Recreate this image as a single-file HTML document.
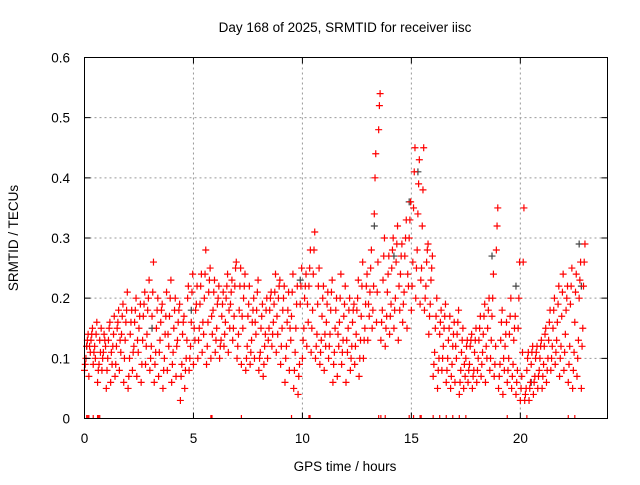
<!DOCTYPE html>
<html><head><meta charset="utf-8"><style>
body{margin:0;background:#fff;}
svg text{font-family:"Liberation Sans",sans-serif;font-size:13.5px;fill:#000;}
</style></head><body>
<svg id="chart" width="640" height="480" viewBox="0 0 640 480" xmlns="http://www.w3.org/2000/svg">
<rect width="640" height="480" fill="#fff"/>
<text x="345" y="32" text-anchor="middle">Day 168 of 2025, SRMTID for receiver iisc</text>
<text transform="translate(18,238) rotate(-90)" text-anchor="middle">SRMTID / TECUs</text>
<text x="345" y="471" text-anchor="middle">GPS time / hours</text>
<g id="grid"></g>
<g id="marks"></g>
<rect x="84.5" y="57.5" width="523" height="361" fill="none" stroke="#000" stroke-width="1"/>
<g id="ticks"></g>
</svg>
<script>
const xTicks=[0,5,10,15,20];
const yTicks=[0,0.1,0.2,0.3,0.4,0.5,0.6];
const yTickLabels=["0","0.1","0.2","0.3","0.4","0.5","0.6"];
const binStart=0, binStep=0.2;
const redLo=[.08,.07,.09,.06,.08,.05,.06,.07,.08,.06,.05,.08,.07,.06,.09,.08,.06,.07,.05,.08,.06,.07,.03,.05,.08,.09,.10,.11,.09,.10,.11,.10,.12,.11,.13,.10,.09,.08,.09,.10,.08,.07,.10,.12,.11,.09,.06,.08,.05,.04,.10,.12,.11,.10,.09,.08,.10,.06,.07,.09,.06,.08,.09,.07,.10,.13,.15,.16,.13,.12,.14,.15,.13,.16,.15,.18,.20,.19,.18,.14,.07,.05,.08,.06,.05,.06,.04,.05,.06,.05,.06,.07,.06,.08,.07,.05,.04,.06,.05,.04,.03,.03,.03,.04,.05,.05,.06,.08,.09,.07,.08,.06,.05,.07,.05];
const redC=[.09,.12,.11,.08,.10,.08,.11,.09,.13,.10,.07,.11,.13,.09,.12,.10,.09,.11,.08,.14,.09,.12,.07,.08,.10,.15,.13,.16,.12,.17,.13,.12,.14,.18,.15,.12,.17,.10,.11,.16,.10,.09,.13,.14,.17,.12,.10,.15,.08,.07,.13,.19,.15,.12,.11,.14,.12,.09,.14,.11,.13,.10,.12,.10,.13,.19,.18,.21,.16,.15,.17,.18,.22,.19,.24,.22,.25,.23,.20,.17,.09,.08,.10,.08,.07,.12,.06,.09,.08,.07,.08,.09,.12,.10,.09,.07,.10,.08,.07,.06,.05,.04,.05,.06,.07,.07,.08,.10,.11,.10,.11,.09,.08,.10,.12];
const redA=[.10,.11,.12,.09,.11,.10,.09,.12,.11,.13,.10,.12,.11,.13,.14,.12,.11,.13,.10,.12,.11,.13,.09,.10,.12,.13,.15,.14,.16,.14,.15,.13,.16,.15,.17,.14,.15,.12,.13,.14,.11,.12,.15,.16,.14,.15,.12,.13,.11,.09,.15,.16,.18,.14,.13,.12,.14,.11,.12,.13,.11,.12,.14,.13,.15,.17,.22,.26,.18,.17,.19,.20,.18,.21,.22,.26,.28,.25,.22,.19,.11,.10,.12,.10,.09,.10,.08,.07,.09,.08,.10,.11,.10,.13,.12,.09,.08,.10,.09,.08,.07,.05,.06,.07,.08,.09,.10,.12,.13,.12,.14,.12,.11,.13,.15];
const redB=[.12,.13,.10,.13,.14,.13,.12,.15,.14,.16,.14,.16,.15,.17,.18,.17,.15,.16,.14,.17,.15,.16,.14,.13,.16,.18,.19,.20,.21,.18,.19,.17,.20,.19,.22,.18,.20,.17,.16,.18,.15,.14,.18,.19,.20,.18,.16,.17,.15,.19,.20,.22,.24,.19,.17,.16,.18,.15,.16,.17,.15,.16,.18,.17,.19,.21,.34,.48,.23,.21,.25,.26,.24,.27,.30,.35,.34,.32,.26,.23,.15,.14,.15,.13,.12,.14,.11,.10,.12,.11,.13,.14,.15,.17,.28,.13,.12,.14,.13,.15,.11,.08,.09,.10,.10,.12,.13,.15,.16,.17,.18,.19,.16,.20,.22];
const redD=[.13,.14,.14,.11,.13,.15,.14,.16,.17,.18,.16,.18,.17,.19,.20,.21,.18,.18,.17,.20,.18,.18,.16,.20,.21,.19,.22,.24,.23,.21,.20,.19,.22,.21,.25,.22,.22,.19,.18,.21,.17,.18,.20,.21,.22,.20,.18,.21,.19,.22,.22,.25,.28,.22,.20,.19,.21,.18,.20,.19,.18,.18,.20,.22,.22,.25,.40,.52,.27,.24,.28,.29,.27,.30,.33,.41,.39,.38,.28,.25,.17,.16,.17,.15,.14,.16,.13,.12,.13,.13,.15,.17,.18,.20,.32,.16,.14,.17,.15,.20,.26,.10,.11,.11,.12,.14,.16,.18,.19,.21,.20,.22,.21,.23,.26];
const redHi=[.14,.15,.16,.15,.12,.16,.17,.18,.19,.21,.18,.20,.19,.21,.23,.26,.20,.19,.21,.23,.20,.19,.17,.22,.24,.22,.24,.28,.25,.23,.22,.21,.24,.23,.26,.25,.24,.22,.20,.23,.19,.20,.21,.24,.23,.22,.21,.24,.22,.25,.24,.28,.31,.25,.22,.21,.23,.20,.24,.22,.20,.19,.23,.26,.24,.28,.44,.54,.30,.27,.30,.32,.29,.33,.36,.45,.43,.45,.29,.27,.20,.18,.19,.17,.16,.18,.15,.13,.14,.15,.17,.19,.20,.24,.35,.18,.16,.20,.17,.26,.35,.11,.12,.12,.13,.15,.18,.20,.22,.24,.22,.25,.24,.26,.29];
const greyHours=[0.1,3.1,4.9,9.9,13.3,14.2,14.9,15.3,18.7,19.8,20.5,22.7,22.8];
const greyVals=[.12,.15,.18,.23,.32,.27,.36,.41,.27,.22,.06,.29,.22];
const zeroHours=[0.1,0.15,0.2,0.4,0.6,0.65,0.7,5.8,5.85,7.2,9.5,10.3,10.35,13.5,13.6,13.8,14.9,15.1,15.4,15.45,16.0,16.3,16.6,16.9,17.2,17.5,19.4,20.3,22.2,22.5];
const NS="http://www.w3.org/2000/svg";
const x=h=>84.5+h*(523/24);
const y=v=>418.5-v*(361/0.6);
const grid=document.getElementById('grid'),ticks=document.getElementById('ticks'),marks=document.getElementById('marks');
function mk(tag,attrs,parent){const e=document.createElementNS(NS,tag);for(const k in attrs)e.setAttribute(k,attrs[k]);parent.appendChild(e);return e;}
xTicks.forEach(t=>{
  if(t>0){const g=mk('line',{x1:x(t),x2:x(t),y1:57.5,y2:418.5,stroke:'#999','stroke-dasharray':'2,3'},grid);
  
  }
  const tk=mk('path',{d:`M${x(t)},418.5v-6M${x(t)},57.5v6`,stroke:'#000'},ticks);
  
  
  const l=mk('text',{x:x(t),y:443,'text-anchor':'middle'},ticks);l.textContent=t;
  
  
});
yTicks.forEach((t,i)=>{
  if(i>0&&i<yTicks.length-1){const g=mk('line',{x1:84.5,x2:607.5,y1:y(t),y2:y(t),stroke:'#999','stroke-dasharray':'2,3'},grid);
  
  }
  const tk=mk('path',{d:`M84.5,${y(t)}h6M607.5,${y(t)}h-6`,stroke:'#000'},ticks);
  
  
  const l=mk('text',{x:70,y:y(t)+5,'text-anchor':'end'},ticks);l.textContent=yTickLabels[i];
  
  
});
function plus(h,v,color,name){
  const px=x(h),py=y(v);
  let d=`M${px-3.5},${py}h7M${px},${py-3.5}v7`;
  if(v===0)d=`M${px},${py-3.5}v3.5`;
  const p=mk('path',{d:d,stroke:color,'stroke-width':1.2,fill:'none'},marks);
  
  
}
greyHours.forEach((h,i)=>plus(h,greyVals[i],'#444','grey-point'));
[redLo,redC,redA,redB,redD,redHi].forEach((arr,k)=>{
  arr.forEach((v,i)=>plus(binStart+i*binStep+k*0.033,v,'#f00','red-point'));
});
zeroHours.forEach(h=>plus(h,0,'#f00','red-zero-point'));
</script>
</body></html>
